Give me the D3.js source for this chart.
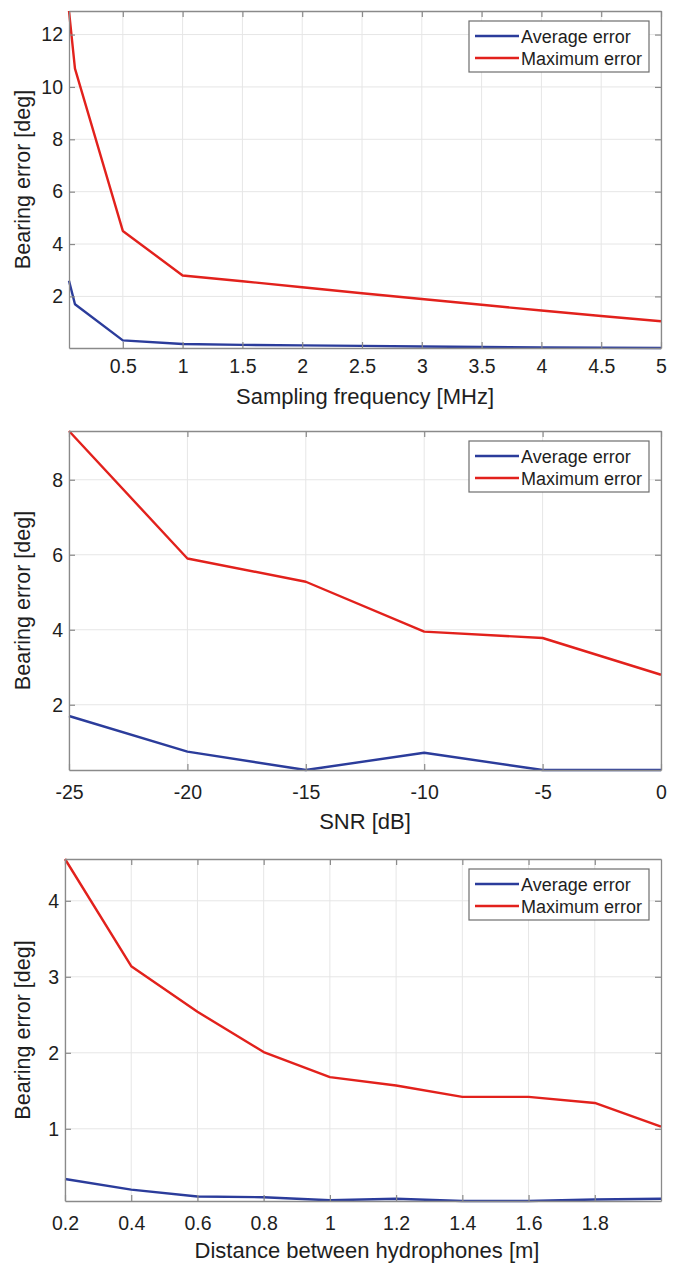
<!DOCTYPE html>
<html>
<head>
<meta charset="utf-8">
<script src="https://cdn.jsdelivr.net/npm/d3@7"></script>
<style>
  html, body { margin: 0; padding: 0; background: #fff; }
  svg { display: block; font-family: "Liberation Sans", Arial, Helvetica, sans-serif; }
</style>
</head>
<body>
<div id="chart"></div>
<script>
// -------------------- DATA --------------------
const seriesNames = ["Average error", "Maximum error"];

// panel 1: sampling frequency
const freqMHz    = [0.05, 0.1, 0.5, 1, 1.5, 2, 2.5, 3, 3.5, 4, 4.5, 5];
const freqAvgErr = [2.6, 1.7, 0.32, 0.18, 0.15, 0.13, 0.11, 0.09, 0.07, 0.05, 0.04, 0.03];
const freqMaxErr = [12.9, 10.7, 4.5, 2.8, 2.58, 2.35, 2.12, 1.9, 1.68, 1.46, 1.25, 1.05];
const freqXTicks = [0.5, 1, 1.5, 2, 2.5, 3, 3.5, 4, 4.5, 5];
const freqYTicks = [2, 4, 6, 8, 10, 12];

// panel 2: SNR
const snrDb     = [-25, -20, -15, -10, -5, 0];
const snrAvgErr = [1.7, 0.75, 0.26, 0.72, 0.26, 0.26];
const snrMaxErr = [9.3, 5.9, 5.28, 3.95, 3.78, 2.8];
const snrXTicks = [-25, -20, -15, -10, -5, 0];
const snrYTicks = [2, 4, 6, 8];

// panel 3: hydrophone distance
const distM      = [0.2, 0.4, 0.6, 0.8, 1.0, 1.2, 1.4, 1.6, 1.8, 2.0];
const distAvgErr = [0.34, 0.2, 0.11, 0.1, 0.06, 0.08, 0.05, 0.05, 0.07, 0.08];
const distMaxErr = [4.55, 3.14, 2.54, 2.01, 1.68, 1.57, 1.42, 1.42, 1.34, 1.03];
const distXTicks = [0.2, 0.4, 0.6, 0.8, 1, 1.2, 1.4, 1.6, 1.8];
const distYTicks = [1, 2, 3, 4];

const yTitle = "Bearing error [deg]";

// -------------------- STYLE --------------------
const W = 675, H = 1264;
const colors = ["#2b3c9b", "#e2211c"];
const axisColor = "#8a8a8a";
const gridColor = "#e6e6e6";
const textColor = "#1e1e1e";

const svg = d3.select("#chart").append("svg")
  .attr("width", W).attr("height", H)
  .attr("viewBox", `0 0 ${W} ${H}`);

const panels = [
  { x: freqMHz, avg: freqAvgErr, max: freqMaxErr, xTicks: freqXTicks, yTicks: freqYTicks,
    xTitle: "Sampling frequency [MHz]",
    box: { left: 69, right: 661, top: 11, bottom: 348 }, xTickBase: 373, xTitleBase: 404 },
  { x: snrDb, avg: snrAvgErr, max: snrMaxErr, xTicks: snrXTicks, yTicks: snrYTicks,
    xTitle: "SNR [dB]",
    box: { left: 69, right: 661, top: 431, bottom: 770 }, xTickBase: 799, xTitleBase: 829 },
  { x: distM, avg: distAvgErr, max: distMaxErr, xTicks: distXTicks, yTicks: distYTicks,
    xTitle: "Distance between hydrophones [m]",
    box: { left: 65, right: 661, top: 859, bottom: 1201 }, xTickBase: 1230, xTitleBase: 1258 }
];

panels.forEach(drawPanel);

function drawPanel(p) {
  const b = p.box,
        w = b.right - b.left,
        h = b.bottom - b.top,
        tickFs = 19.5;

  const g = svg.append("g").attr("transform", `translate(${b.left},${b.top})`);

  const x = d3.scaleLinear().domain(d3.extent(p.x)).range([0, w]);
  const y = d3.scaleLinear()
    .domain([d3.min(p.avg.concat(p.max)), d3.max(p.avg.concat(p.max))])
    .range([h, 0]);

  // grid
  g.append("g").selectAll("line").data(p.xTicks).join("line")
    .attr("x1", d => x(d)).attr("x2", d => x(d))
    .attr("y1", 0).attr("y2", h)
    .attr("stroke", gridColor).attr("stroke-width", 1);
  g.append("g").selectAll("line").data(p.yTicks).join("line")
    .attr("y1", d => y(d)).attr("y2", d => y(d))
    .attr("x1", 0).attr("x2", w)
    .attr("stroke", gridColor).attr("stroke-width", 1);

  // series
  const series = [p.avg, p.max];
  series.forEach((vals, i) => {
    const line = d3.line().x((d, k) => x(p.x[k])).y(d => y(d));
    g.append("path")
      .datum(vals)
      .attr("d", line)
      .attr("fill", "none")
      .attr("stroke", colors[i])
      .attr("stroke-width", 2.4)
      .attr("stroke-linejoin", "round");
  });

  // axes (inward ticks on all four sides)
  const fmt = d => String(d);
  const styleAxis = sel => {
    sel.select(".domain").attr("stroke", axisColor).attr("stroke-width", 1.3);
    sel.selectAll(".tick line").attr("stroke", axisColor).attr("stroke-width", 1.2);
    sel.selectAll(".tick text").attr("fill", textColor).style("font-size", tickFs + "px");
  };

  const padX = p.xTickBase - b.bottom - Math.round(0.71 * tickFs);
  g.append("g").attr("transform", `translate(0,${h})`)
    .call(d3.axisBottom(x).tickValues(p.xTicks).tickFormat(fmt)
      .tickSizeInner(-6).tickSizeOuter(0).tickPadding(padX))
    .call(styleAxis);
  g.append("g")
    .call(d3.axisTop(x).tickValues(p.xTicks).tickFormat("")
      .tickSizeInner(-6).tickSizeOuter(0))
    .call(styleAxis);
  g.append("g")
    .call(d3.axisLeft(y).tickValues(p.yTicks).tickFormat(fmt)
      .tickSizeInner(-6).tickSizeOuter(0).tickPadding(6))
    .call(styleAxis);
  g.append("g").attr("transform", `translate(${w},0)`)
    .call(d3.axisRight(y).tickValues(p.yTicks).tickFormat("")
      .tickSizeInner(-6).tickSizeOuter(0))
    .call(styleAxis);

  // axis titles
  g.append("text")
    .attr("x", w / 2 + (b.left === 65 ? 4 : 0))
    .attr("y", p.xTitleBase - b.top)
    .attr("text-anchor", "middle")
    .attr("fill", textColor)
    .style("font-size", "22px")
    .text(p.xTitle);

  g.append("text")
    .attr("transform", `translate(${30 - b.left},${h / 2}) rotate(-90)`)
    .attr("text-anchor", "middle")
    .attr("fill", textColor)
    .style("font-size", "21.5px")
    .text(yTitle);

  // legend
  const lg = g.append("g").attr("transform", `translate(${w - 192},${10})`);
  lg.append("rect")
    .attr("width", 180).attr("height", 51)
    .attr("fill", "#fff")
    .attr("stroke", "#6e6e6e").attr("stroke-width", 1.2);
  seriesNames.forEach((name, i) => {
    const cy = 15 + i * 22;
    lg.append("line")
      .attr("x1", 6).attr("x2", 50)
      .attr("y1", cy).attr("y2", cy)
      .attr("stroke", colors[i]).attr("stroke-width", 2.4);
    lg.append("text")
      .attr("x", 52).attr("y", cy + 6.5)
      .attr("fill", textColor)
      .style("font-size", "18px")
      .text(name);
  });
}
</script>
</body>
</html>
